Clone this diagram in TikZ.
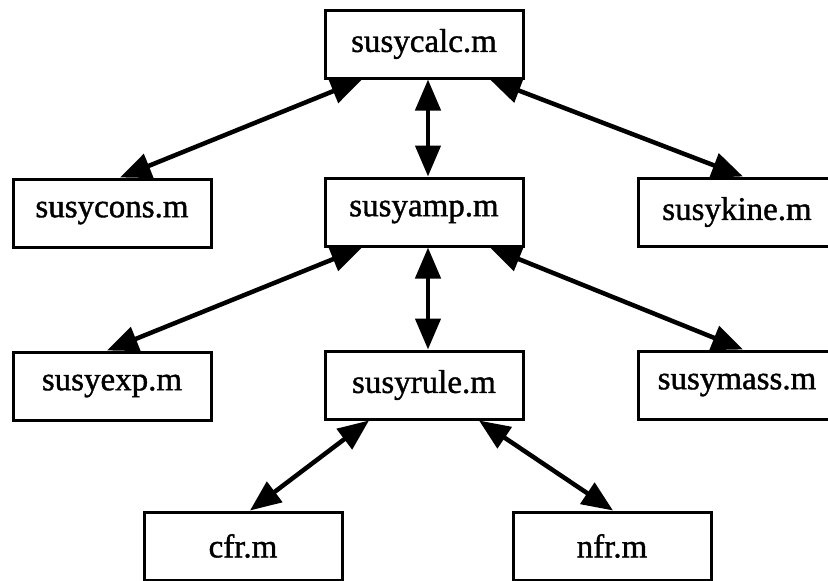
\documentclass[tikz,border=0pt]{standalone}
\usepackage{fontspec}
\setmainfont[FakeBold=1.2]{Liberation Serif}
\usetikzlibrary{arrows.meta,calc}
\begin{document}
\begin{tikzpicture}[x=1pt,y=-1pt,
  filebox/.style={draw=black,fill=white,line width=3pt,minimum width=198pt,minimum height=68pt,inner sep=0pt,font=\fontsize{33}{36}\selectfont},
  link/.style={line width=4.5pt,{Triangle[length=31pt,width=25pt]}-{Triangle[length=31pt,width=25pt]}}]
\clip (0,0) rectangle (828,581);
\fill[white] (0,0) rectangle (828,581);
\node[filebox] (calc) at (424,44) {susycalc.m};
\node[filebox] (cons) at (112,213) {susycons.m};
\node[filebox] (amp)  at (424,212) {susyamp.m};
\node[filebox] (kine) at (737,212) {susykine.m};
\node[filebox] (exp)  at (112,386) {susyexp.m};
\node[filebox] (rule) at (424,385) {susyrule.m};
\node[filebox] (mass) at (737,385) {susymass.m};
\node[filebox] (cfr)  at (243,546) {cfr.m};
\node[filebox] (nfr)  at (612,546) {nfr.m};
\draw[link] ([xshift=-62pt]calc.south) -- ([xshift=8pt]cons.north);
\draw[link] ([xshift=4pt]calc.south) -- ([xshift=4pt]amp.north);
\draw[link] ([xshift=66pt]calc.south) -- ([xshift=6pt]kine.north);
\draw[link] ([xshift=-62pt]amp.south) -- ([xshift=-5pt]exp.north);
\draw[link] ([xshift=4pt]amp.south) -- ([xshift=4pt]rule.north);
\draw[link] ([xshift=66pt]amp.south) -- ([xshift=6pt]mass.north);
\draw[link] ([xshift=-55pt]rule.south) -- ([xshift=7pt]cfr.north);
\draw[link] ([xshift=55pt]rule.south) -- ([xshift=1pt]nfr.north);
\end{tikzpicture}
\end{document}
